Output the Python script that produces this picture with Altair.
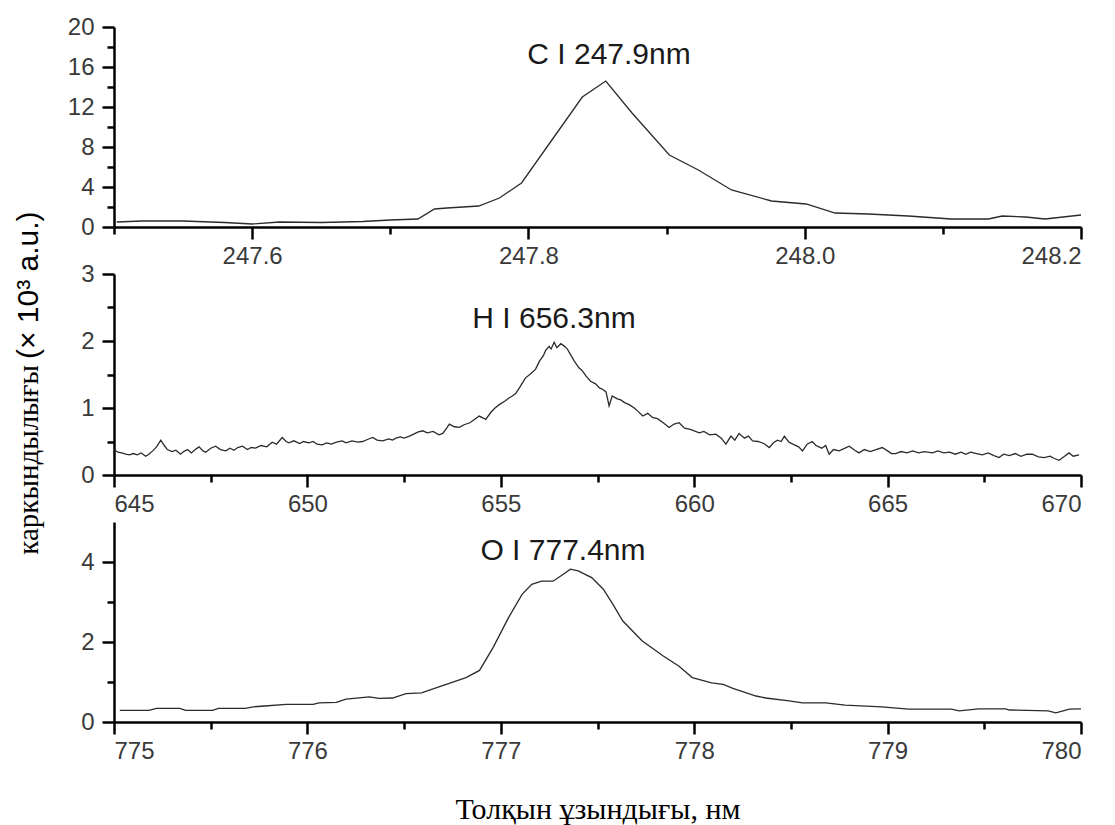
import altair as alt
import pandas as pd

# ---------------- data ----------------
c_wl = [247.502, 247.52, 247.55, 247.58, 247.60, 247.62, 247.65, 247.68, 247.70, 247.72,
        247.732, 247.741, 247.764, 247.779, 247.795, 247.817, 247.839, 247.856, 247.875,
        247.902, 247.923, 247.947, 247.976, 248.001, 248.022, 248.046, 248.075, 248.106,
        248.133, 248.143, 248.160, 248.174, 248.2]
c_int = [0.5, 0.6, 0.6, 0.45, 0.3, 0.5, 0.45, 0.55, 0.7, 0.8,
         1.8, 1.9, 2.1, 2.9, 4.4, 8.7, 13.0, 14.6, 11.4,
         7.2, 5.7, 3.7, 2.6, 2.3, 1.4, 1.3, 1.1, 0.8,
         0.8, 1.1, 1.0, 0.8, 1.2]

h_wl = [645.00, 645.10, 645.20, 645.30, 645.40, 645.50, 645.60, 645.70, 645.82, 645.90,
        646.00, 646.10, 646.21, 646.30, 646.38, 646.50, 646.60, 646.72, 646.80, 646.90,
        647.00, 647.10, 647.20, 647.30, 647.37, 647.50, 647.63, 647.75, 647.89, 648.00,
        648.10, 648.20, 648.32, 648.45, 648.55, 648.66, 648.80, 648.95, 649.09, 649.20,
        649.35, 649.45, 649.52, 649.65, 649.80, 649.90, 650.04, 650.15, 650.25, 650.38,
        650.50, 650.62, 650.75, 650.90, 651.00, 651.15, 651.30, 651.43, 651.55, 651.69,
        651.80, 651.95, 652.10, 652.20, 652.29, 652.40, 652.50, 652.64, 652.75, 652.85,
        652.98, 653.10, 653.25, 653.40, 653.50, 653.60, 653.67, 653.80, 653.93, 654.05,
        654.20, 654.30, 654.44, 654.55, 654.61, 654.75, 654.85, 654.96, 655.10, 655.21,
        655.30, 655.39, 655.50, 655.64, 655.75, 655.90, 656.00, 656.10, 656.16, 656.25,
        656.30, 656.38, 656.45, 656.55, 656.65, 656.72, 656.80, 656.90, 657.02, 657.10,
        657.20, 657.32, 657.45, 657.55, 657.63, 657.72, 657.80, 657.88, 658.00, 658.10,
        658.20, 658.32, 658.45, 658.55, 658.67, 658.80, 658.92, 659.05, 659.20, 659.35,
        659.48, 659.61, 659.75, 659.90, 660.00, 660.13, 660.25, 660.40, 660.56, 660.70,
        660.82, 660.95, 661.05, 661.16, 661.30, 661.40, 661.51, 661.65, 661.80, 661.94,
        662.05, 662.15, 662.25, 662.33, 662.45, 662.55, 662.70, 662.80, 662.92, 663.05,
        663.15, 663.30, 663.40, 663.49, 663.60, 663.75, 663.90, 664.01, 664.15, 664.26,
        664.40, 664.55, 664.70, 664.86, 665.00, 665.10, 665.21, 665.35, 665.50, 665.65,
        665.80, 665.95, 666.16, 666.30, 666.45, 666.60, 666.75, 666.90, 667.02, 667.15,
        667.30, 667.45, 667.60, 667.75, 667.88, 668.00, 668.15, 668.30, 668.45, 668.60,
        668.74, 668.90, 669.05, 669.20, 669.30, 669.43, 669.55, 669.69, 669.80, 669.95]
h_int = [0.38, 0.34, 0.33, 0.31, 0.30, 0.32, 0.30, 0.33, 0.28, 0.31,
         0.36, 0.42, 0.52, 0.44, 0.38, 0.35, 0.37, 0.31, 0.35, 0.38,
         0.33, 0.38, 0.42, 0.36, 0.34, 0.40, 0.43, 0.38, 0.36, 0.40,
         0.37, 0.41, 0.43, 0.38, 0.41, 0.40, 0.44, 0.42, 0.49, 0.46,
         0.56, 0.50, 0.48, 0.51, 0.47, 0.50, 0.48, 0.50, 0.46, 0.45,
         0.48, 0.46, 0.49, 0.51, 0.48, 0.51, 0.49, 0.50, 0.53, 0.56,
         0.52, 0.51, 0.54, 0.52, 0.55, 0.57, 0.55, 0.58, 0.61, 0.64,
         0.66, 0.63, 0.65, 0.60, 0.62, 0.70, 0.76, 0.72, 0.71, 0.75,
         0.78, 0.82, 0.88, 0.85, 0.83, 0.94, 1.00, 1.05, 1.10, 1.15,
         1.18, 1.22, 1.32, 1.45, 1.50, 1.58, 1.70, 1.78, 1.86, 1.92,
         1.88, 1.98, 1.90, 1.96, 1.92, 1.88, 1.80, 1.70, 1.60, 1.56,
         1.48, 1.40, 1.36, 1.30, 1.28, 1.24, 1.03, 1.18, 1.14, 1.12,
         1.08, 1.05, 1.00, 0.95, 0.88, 0.92, 0.86, 0.84, 0.78, 0.71,
         0.76, 0.78, 0.70, 0.68, 0.66, 0.63, 0.65, 0.60, 0.61, 0.55,
         0.46, 0.58, 0.52, 0.62, 0.55, 0.58, 0.51, 0.50, 0.47, 0.41,
         0.48, 0.52, 0.50, 0.58, 0.49, 0.46, 0.42, 0.36, 0.46, 0.50,
         0.44, 0.40, 0.44, 0.31, 0.38, 0.36, 0.40, 0.43, 0.37, 0.33,
         0.38, 0.35, 0.38, 0.41, 0.36, 0.32, 0.32, 0.35, 0.33, 0.36,
         0.33, 0.35, 0.33, 0.36, 0.33, 0.34, 0.31, 0.34, 0.31, 0.34,
         0.32, 0.30, 0.33, 0.29, 0.26, 0.31, 0.29, 0.32, 0.28, 0.31,
         0.31, 0.27, 0.26, 0.28, 0.25, 0.22, 0.27, 0.33, 0.28, 0.30]

o_wl = [775.03, 775.18, 775.22, 775.34, 775.37, 775.51, 775.54, 775.68, 775.72, 775.78,
        775.89, 776.03, 776.06, 776.15, 776.20, 776.32, 776.37, 776.44, 776.51, 776.59,
        776.68, 776.82, 776.89, 776.96, 777.04, 777.11, 777.16, 777.21, 777.27, 777.31,
        777.36, 777.40, 777.47, 777.53, 777.58, 777.63, 777.73, 777.84, 777.92, 777.99,
        778.09, 778.15, 778.20, 778.32, 778.37, 778.49, 778.56, 778.68, 778.78, 778.97,
        779.11, 779.33, 779.37, 779.47, 779.61, 779.63, 779.83, 779.87, 779.94, 780.00]
o_int = [0.29, 0.29, 0.34, 0.34, 0.29, 0.29, 0.34, 0.34, 0.38, 0.40,
         0.44, 0.44, 0.48, 0.49, 0.57, 0.63, 0.59, 0.60, 0.71, 0.73,
         0.88, 1.11, 1.29, 1.86, 2.61, 3.19, 3.44, 3.52, 3.52, 3.65,
         3.82, 3.78, 3.61, 3.32, 2.94, 2.53, 2.03, 1.65, 1.40, 1.11,
         0.98, 0.94, 0.84, 0.65, 0.60, 0.53, 0.48, 0.48, 0.42, 0.38,
         0.32, 0.32, 0.28, 0.33, 0.33, 0.30, 0.28, 0.23, 0.32, 0.33]

panel_labels = ["C I 247.9nm", "H I 656.3nm", "O I 777.4nm"]
c_xticks = [247.5, 247.6, 247.7, 247.8, 247.9, 248.0, 248.1, 248.2]
h_xticks = [645, 647.5, 650, 652.5, 655, 657.5, 660, 662.5, 665, 667.5, 670]
o_xticks = [775, 775.5, 776, 776.5, 777, 777.5, 778, 778.5, 779, 779.5, 780]
c_yticks = [0, 2, 4, 6, 8, 10, 12, 14, 16, 18, 20]
h_yticks = [0, 0.5, 1, 1.5, 2, 2.5, 3]
o_yticks = [0, 1, 2, 3, 4]
y_title_main = "каркындылығы"
y_title_unit = "(× 10³ a.u.)"
x_title = "Толқын ұзындығы, нм"

SANS = "Liberation Sans"
SERIF = "Liberation Serif"
LINE = "#2b2b2b"
W = 967


def panel(wl, inten, xdom, xvals, xtest, xfmt, ydom, yvals, ytest, height,
          label, lx, ly, xtitle=None, extra=()):
    df = pd.DataFrame({"wl": wl, "val": inten})
    xaxis_kw = dict(
        values=xvals,
        labelExpr=f"({xtest}) ? format(datum.value, '{xfmt}') : ''",
        tickSize={"condition": {"test": xtest, "value": 12}, "value": 7},
        labelPadding=5,
    )
    if xtitle:
        xaxis_kw.update(title=xtitle, titleFont=SERIF, titleFontSize=30,
                        titleFontWeight="normal", titleColor="#000000",
                        titlePadding=31)
    else:
        xaxis_kw.update(title=None)
    line = alt.Chart(df).mark_line(color=LINE, strokeWidth=1.3).encode(
        x=alt.X("wl:Q", scale=alt.Scale(domain=xdom, nice=False, zero=False),
                axis=alt.Axis(**xaxis_kw)),
        y=alt.Y("val:Q", scale=alt.Scale(domain=ydom, nice=False),
                axis=alt.Axis(
                    values=yvals, title=None,
                    labelExpr=f"({ytest}) ? format(datum.value, '.0f') : ''",
                    tickSize={"condition": {"test": ytest, "value": 12}, "value": 7},
                    labelPadding=8,
                )),
    )
    txt = alt.Chart(pd.DataFrame({"t": [label]})).mark_text(
        font=SANS, fontSize=30, color="#1a1a1a", align="center", baseline="middle"
    ).encode(text="t:N", x=alt.value(lx), y=alt.value(ly))
    return alt.layer(line, txt, *extra).properties(width=W, height=height)


ytitle_a = alt.Chart(pd.DataFrame({"t": [y_title_main]})).mark_text(
    font=SERIF, fontSize=29, color="#000000", angle=270, align="right", baseline="middle"
).encode(text="t:N", x=alt.value(-85), y=alt.value(91))
ytitle_b = alt.Chart(pd.DataFrame({"t": [y_title_unit]})).mark_text(
    font=SANS, fontSize=30, color="#000000", angle=270, align="left", baseline="middle"
).encode(text="t:N", x=alt.value(-85), y=alt.value(85))

p1 = panel(c_wl, c_int, [247.5, 248.2], c_xticks, "round(datum.value*10) % 2 == 0", ".1f",
           [0, 20], c_yticks, "round(datum.value) % 4 == 0", 200,
           panel_labels[0], 495, 28)
p2 = panel(h_wl, h_int, [645, 670], h_xticks, "round(datum.value*2) % 10 == 0", ".0f",
           [0, 3], h_yticks, "round(datum.value*2) % 2 == 0", 201,
           panel_labels[1], 440, 45, extra=(ytitle_a, ytitle_b))
p3 = panel(o_wl, o_int, [775, 780], o_xticks, "round(datum.value*2) % 2 == 0", ".0f",
           [0, 5], o_yticks, "round(datum.value) % 2 == 0", 200,
           panel_labels[2], 449, 29, xtitle=x_title)

chart = alt.vconcat(p1, p2, p3, spacing=47, bounds="flush").properties(
    padding={"left": 5, "top": 7, "right": 0, "bottom": 5},
    background="#ffffff",
).configure_view(stroke=None).configure_axis(
    grid=False,
    domainColor="#000000", domainWidth=2.5,
    tickColor="#000000", tickWidth=2.5,
    labelFont=SANS, labelFontSize=24, labelColor="#3a3a3a",
)

chart.save("out.html", embed_options={"renderer": "svg", "actions": False})
